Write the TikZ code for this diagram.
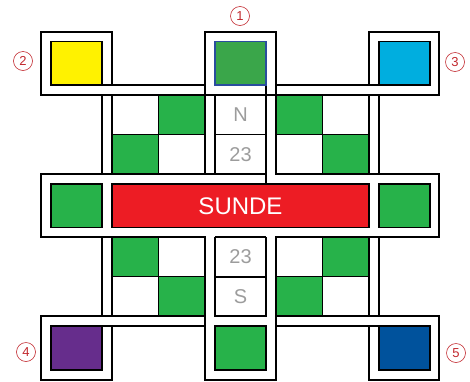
\documentclass[tikz,border=0pt]{standalone}
\usepackage{fontspec}
\setsansfont{Liberation Sans}

\definecolor{amarillo}{HTML}{FFF200}
\definecolor{verde}{HTML}{27B24A}
\definecolor{verdeosc}{HTML}{3AA64A}
\definecolor{azulborde}{HTML}{2A4D9E}
\definecolor{cian}{HTML}{00AEDF}
\definecolor{rojo}{HTML}{ED1C24}
\definecolor{morado}{HTML}{662D8C}
\definecolor{azul}{HTML}{00529C}
\definecolor{gris}{HTML}{9C9C9C}
\definecolor{rojonum}{HTML}{C1272D}

\tikzset{
  linea/.style={line width=1.3pt},
  casilla/.style={draw, line width=1.3pt},
  letra/.style={text=gris, font=\sffamily\fontsize{20}{20}\selectfont},
  numero/.style={circle, draw=rojonum, text=rojonum, line width=0.6pt,
    minimum size=19pt, inner sep=0pt, font=\sffamily\fontsize{13}{13}\selectfont},
}

\begin{document}
\begin{tikzpicture}[x=1pt, y=-1pt]

    \useasboundingbox (0,0) rectangle (470,381);

    % Damero (casillas verdes)
    \foreach \x/\y in {158/95, 112/134.5, 276/95, 322.5/134.5,
                       112/237, 158/277, 322.5/237, 276/277}
        \fill[verde] (\x,\y) rectangle ++(46.5,39.5);

    % Rejilla del damero
    \foreach \x in {112,276} {
        \foreach \y in {95,237} {
            \draw[linea] (\x,\y) rectangle ++(93,79);
            \draw[linea] (\x,\y+39.5) -- ++(93,0);
            \draw[linea] (\x+46.5,\y) -- ++(0,79);
        }
    }

    % Cuadrados de las esquinas
    \draw[casilla, fill=amarillo] (51,41.5) rectangle (102,85);
    \draw[casilla, fill=cian] (379,41.5) rectangle (430,85);
    \draw[casilla, fill=morado] (51,326) rectangle (102,370);
    \draw[casilla, fill=azul] (379,326) rectangle (430,370);
    \draw[casilla, fill=verde] (215,326) rectangle (266,370);

    % Banda del medio
    \draw[casilla, fill=verde] (51,184) rectangle (102,227.5);
    \draw[casilla, fill=rojo] (112,184) rectangle (369,227.5);
    \draw[casilla, fill=verde] (379,184) rectangle (430,227.5);

    % Marcos de arriba
    \draw[linea] (112,85) -- (112,32) -- (41,32) -- (41,95) -- (439,95)
        -- (439,32) -- (369,32) -- (369,85);
    \draw[linea] (102,85) -- (205,85);
    \draw[linea] (276,85) -- (379,85);
    \draw[linea] (205,174) -- (205,32) -- (276,32) -- (276,174);

    % Tiras verticales de arriba
    \draw[linea] (102,95) -- (102,174);
    \draw[linea] (112,95) -- (112,174);
    \draw[linea] (369,95) -- (369,174);
    \draw[linea] (379,95) -- (379,174);
    \draw[linea] (215,95) -- (215,174);
    \draw[linea] (266,85) -- (266,184);
    \draw[linea] (215,134.5) -- (266,134.5);

    % Cuadrado de arriba, borde azul
    \draw[line width=1.8pt, draw=azulborde, fill=verdeosc] (215,41.5) rectangle (266,85);

    % Marco del medio
    \draw[linea] (266,174) -- (41,174) -- (41,237) -- (205,237);
    \draw[linea] (276,174) -- (439,174) -- (439,237) -- (276,237);
    \draw[linea] (215,237) -- (266,237);

    % Tiras verticales de abajo
    \draw[linea] (102,237) -- (102,316);
    \draw[linea] (112,237) -- (112,316);
    \draw[linea] (369,237) -- (369,316);
    \draw[linea] (379,237) -- (379,316);
    \draw[linea] (215,237) -- (215,316) -- (266,316) -- (266,237);
    \draw[linea] (215,277) -- (266,277);

    % Marcos de abajo
    \draw[linea] (205,237) -- (205,380) -- (276,380) -- (276,237);
    \draw[linea] (205,316) -- (41,316) -- (41,380) -- (112,380) -- (112,326);
    \draw[linea] (102,326) -- (205,326);
    \draw[linea] (276,316) -- (439,316) -- (439,380) -- (369,380) -- (369,326);
    \draw[linea] (276,326) -- (379,326);

    % Textos
    \node[text=white, font=\sffamily\fontsize{24}{24}\selectfont] (sunde) at (240.5,206) {SUNDE};
    \node[letra] (norte) at (240.5,115) {N};
    \node[letra] (cifra1) at (240.5,154.5) {23};
    \node[letra] (cifra2) at (240.5,257) {23};
    \node[letra] (sur) at (240.5,296.5) {S};

    % Numeros en circulo
    \node[numero] (n1) at (240,16) {1};
    \node[numero] (n2) at (23,61) {2};
    \node[numero] (n3) at (455,62) {3};
    \node[numero] (n4) at (26,352) {4};
    \node[numero] (n5) at (456,353) {5};

\end{tikzpicture}
\end{document}
